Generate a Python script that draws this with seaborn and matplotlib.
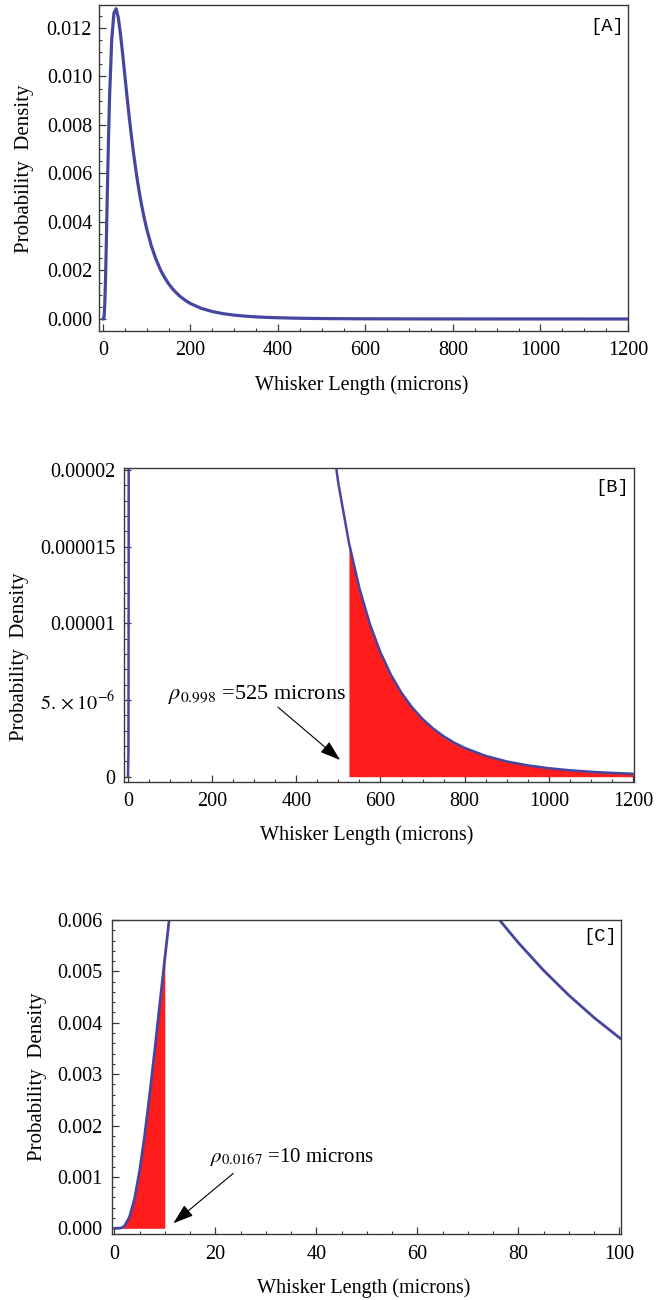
import matplotlib
matplotlib.use("Agg")
import matplotlib.pyplot as plt
from matplotlib.ticker import MultipleLocator, FixedLocator, FixedFormatter, FormatStrFormatter
import pandas as pd
import seaborn as sns

# ---- data (whisker length in microns, probability density) ----
length_um = [0, 1, 1.5, 2, 3, 4, 5, 6, 7, 8, 9, 10, 11, 12, 15, 20, 25, 30, 35, 40, 45, 50,
             55, 60, 65, 70, 76, 80, 85, 90, 95, 100, 110, 120, 130, 135, 140, 150, 160, 175,
             190, 200, 225, 250, 275, 300, 325, 350, 375, 400, 450, 475, 500, 525, 550, 575,
             600, 625, 650, 675, 700, 725, 750, 775, 800, 850, 900, 950, 1000, 1050, 1100,
             1150, 1200]
density = [0.0, 1.561e-6, 1.206e-5, 4.384e-5, 2.162e-4, 5.718e-4, 1.1099e-3, 1.7998e-3,
           2.5973e-3, 3.4609e-3, 4.3552e-3, 5.2498e-3, 6.1215e-3, 6.9545e-3, 9.1290e-3,
           1.1525e-2, 1.2610e-2, 1.2793e-2, 1.2424e-2, 1.1748e-2, 1.0920e-2, 1.0040e-2,
           9.1632e-3, 8.3239e-3, 7.5388e-3, 6.8158e-3, 6.0322e-3, 5.5592e-3, 5.0201e-3,
           4.5359e-3, 4.1009e-3, 3.7108e-3, 3.0478e-3, 2.5144e-3, 2.0843e-3, 1.9009e-3,
           1.7360e-3, 1.4528e-3, 1.2212e-3, 9.4926e-4, 7.4491e-4, 6.3683e-4, 4.3735e-4,
           3.0665e-4, 2.1907e-4, 1.5913e-4, 1.1734e-4, 8.7686e-5, 6.6310e-5, 5.0728e-5,
           3.0589e-5, 2.4065e-5, 1.9086e-5, 1.5250e-5, 1.2270e-5, 9.933e-6, 8.0943e-6,
           6.6292e-6, 5.4604e-6, 4.5206e-6, 3.7592e-6, 3.1404e-6, 2.6346e-6, 2.2190e-6,
           1.8767e-6, 1.3563e-6, 9.929e-7, 7.357e-7, 5.513e-7, 4.175e-7, 3.189e-7,
           2.459e-7, 1.911e-7]
q_high_um = 525
q_low_um = 10
label_high = r'$\rho_{0.998}$ =525 microns'
label_low = r'$\rho_{0.0167}$ =10 microns'
panel_tags = ['[A]', '[B]', '[C]']
xlabel = 'Whisker Length (microns)'
ylabel = 'Probability  Density'
b_yticks = [0, 5e-6, 1e-5, 1.5e-5, 2e-5]
b_yticklabels = ['0', r'$5.\times10^{-6}$', '0.00001', '0.000015', '0.00002']

sns.set_theme(style='white')
plt.rcParams['font.family'] = ['Liberation Serif', 'DejaVu Serif']
plt.rcParams['mathtext.fontset'] = 'stix'
plt.rcParams['text.color'] = 'black'

df = pd.DataFrame({'length': length_um, 'density': density})

LINE = '#4646a0'
RED = '#ff1c1c'
FRAME = '#3a3a3a'
FS = 14.5

W, H = 667, 1300
fig = plt.figure(figsize=(W / 100, H / 100), dpi=100)
fig.patch.set_facecolor('white')


def add_ax(l, r, t, b):
    return fig.add_axes([l / W, 1 - b / H, (r - l) / W, (b - t) / H])


def style(ax, xpad, ypad):
    for s in ax.spines.values():
        s.set_visible(True)
        s.set_color(FRAME)
        s.set_linewidth(1.0)
    ax.tick_params(which='both', direction='in', top=False, right=False,
                   bottom=True, left=True, color=FRAME, labelcolor='black',
                   labelsize=FS)
    ax.tick_params(which='major', length=5, width=0.9)
    ax.tick_params(which='minor', length=2.5, width=0.8)
    ax.tick_params(axis='x', which='major', pad=xpad)
    ax.tick_params(axis='y', which='major', pad=ypad)
    ax.grid(False)
    ax.set_facecolor('white')


def labels(ax, xl_pos, yl_pos):
    ax.set_xlabel(xlabel, fontsize=14.5, color='black')
    ax.set_ylabel(ylabel, fontsize=15, color='black')
    ax.xaxis.label.set(va='center', ha='center')
    ax.yaxis.label.set(va='center', ha='center')
    ax.xaxis.set_label_coords(*xl_pos)
    ax.yaxis.set_label_coords(*yl_pos)


TAGFONT = ['Liberation Mono', 'DejaVu Sans Mono']

# ---------------- Panel A ----------------
axA = add_ax(99, 628, 5, 331)
sns.lineplot(data=df, x='length', y='density', ax=axA, color=LINE, lw=2.3,
             estimator=None, sort=True, legend=False)
axA.set_xlim(-9.1, 1200)
axA.set_ylim(-0.000495, 0.012948)
axA.xaxis.set_major_locator(MultipleLocator(200))
axA.xaxis.set_minor_locator(MultipleLocator(50))
axA.yaxis.set_major_locator(MultipleLocator(0.002))
axA.yaxis.set_minor_locator(MultipleLocator(0.0005))
axA.yaxis.set_major_formatter(FormatStrFormatter('%.3f'))
style(axA, 7, 5)
labels(axA, (0.497, -0.166), (-0.14, 0.497))
axA.text(0.96, 0.933, panel_tags[0], transform=axA.transAxes, ha='center', va='center',
         fontsize=13.5, family=TAGFONT)

# ---------------- Panel B ----------------
axB = add_ax(124, 634, 468, 782)
tail_b = df[df['length'] >= q_high_um]
axB.fill_between(tail_b['length'], 0, tail_b['density'], color=RED, lw=0, zorder=1)
sns.lineplot(data=df, x='length', y='density', ax=axB, color=LINE, lw=1.8,
             estimator=None, sort=True, legend=False, zorder=2)
axB.set_xlim(-9.5, 1202.4)
axB.set_ylim(-3.46e-7, 2.012e-5)
axB.xaxis.set_major_locator(MultipleLocator(200))
axB.xaxis.set_minor_locator(MultipleLocator(50))
axB.yaxis.set_major_locator(FixedLocator(b_yticks))
axB.yaxis.set_major_formatter(FixedFormatter(b_yticklabels))
axB.yaxis.set_minor_locator(MultipleLocator(1e-6))
style(axB, 7, 6)
labels(axB, (0.475, -0.17), (-0.204, 0.40))
axB.text(0.957, 0.939, panel_tags[1], transform=axB.transAxes, ha='center', va='center',
         fontsize=13.5, family=TAGFONT)
axB.text(95, 5.33e-6, label_high, ha='left', va='center', fontsize=16)
axB.annotate('', xy=(504, 1.09e-6), xytext=(356, 4.54e-6),
             arrowprops=dict(arrowstyle='-|>,head_length=0.9,head_width=0.3',
                             color='black', lw=0.8, mutation_scale=14,
                             shrinkA=0, shrinkB=0))

# ---------------- Panel C ----------------
axC = add_ax(112, 621, 920, 1234)
head_c = df[df['length'] <= q_low_um]
axC.fill_between(head_c['length'], 0, head_c['density'], color=RED, lw=0, zorder=1)
sns.lineplot(data=df, x='length', y='density', ax=axC, color=LINE, lw=2.0,
             estimator=None, sort=True, legend=False, zorder=2)
axC.set_xlim(-0.46, 100.34)
axC.set_ylim(-0.000111, 0.006)
axC.xaxis.set_major_locator(MultipleLocator(20))
axC.xaxis.set_minor_locator(MultipleLocator(5))
axC.yaxis.set_major_locator(MultipleLocator(0.001))
axC.yaxis.set_minor_locator(MultipleLocator(0.0002))
axC.yaxis.set_major_formatter(FormatStrFormatter('%.3f'))
style(axC, 8, 7)
labels(axC, (0.495, -0.172), (-0.147, 0.50))
axC.text(0.959, 0.946, panel_tags[2], transform=axC.transAxes, ha='center', va='center',
         fontsize=13.5, family=TAGFONT)
axC.text(18.95, 0.001394, label_low, ha='left', va='center', fontsize=15)
axC.annotate('', xy=(11.68, 0.0000973), xytext=(23.56, 0.00107),
             arrowprops=dict(arrowstyle='-|>,head_length=0.9,head_width=0.3',
                             color='black', lw=0.8, mutation_scale=14,
                             shrinkA=0, shrinkB=0))

fig.savefig('out.png', dpi=100, facecolor='white')
